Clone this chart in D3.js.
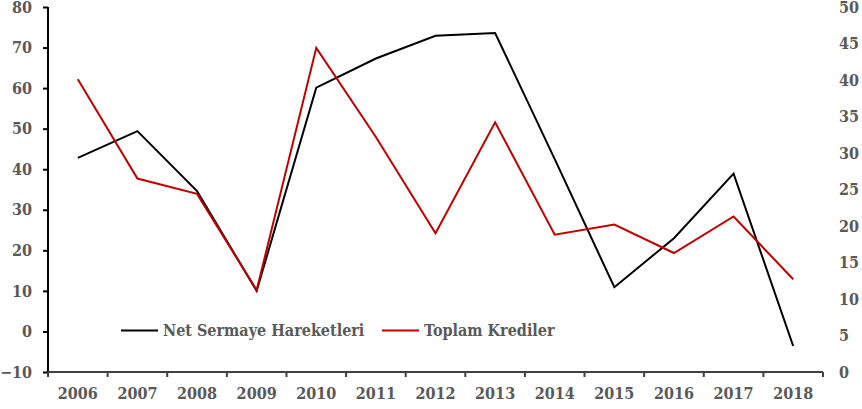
<!DOCTYPE html>
<html><head><meta charset="utf-8">
<script src="https://cdn.jsdelivr.net/npm/d3@7"></script>
<style>
html,body{margin:0;padding:0;background:#fff;}
text{font-family:"DejaVu Serif Condensed","DejaVu Serif",serif;font-stretch:condensed;font-weight:bold;fill:#595959;}
</style></head>
<body><svg id="c" width="862" height="409"></svg>
<script>
const years = ["2006","2007","2008","2009","2010","2011","2012","2013","2014","2015","2016","2017","2018"];
const netSermaye = [42.8,49.4,34.6,10.0,60.1,67.3,72.9,73.6,42.5,10.9,23.0,38.9,-3.6];
const toplamKrediler = [40.1,26.5,24.4,11.2,44.4,32.2,19.0,34.2,18.8,20.2,16.3,21.3,12.7];
const leftTicks = [-10,0,10,20,30,40,50,60,70,80];
const rightTicks = [0,5,10,15,20,25,30,35,40,45,50];
const seriesNames = ["Net Sermaye Hareketleri","Toplam Krediler"];
const seriesColors = ["#000000","#C00000"];

const svg = d3.select("#c");
const L = 48, R = 823, T = 7, B = 372;
const x = d3.scaleBand().domain(years).range([L,R]).padding(0);
const yL = d3.scaleLinear().domain([-10,80]).range([B,T]);
const yR = d3.scaleLinear().domain([0,50]).range([B,T]);

// left axis
const gL = svg.append("g").attr("transform",`translate(${L},0)`)
  .call(d3.axisLeft(yL).tickValues(leftTicks).tickSize(5).tickPadding(11));
gL.select(".domain").attr("stroke","#000").attr("stroke-width",2).attr("d",`M0,${T}V${B}`);
gL.selectAll(".tick line").attr("stroke","#000").attr("stroke-width",2);
gL.selectAll(".tick text").style("font-size","16px").attr("fill","#595959");

// right axis labels only
const gR = svg.append("g").attr("transform",`translate(839,0)`)
  .call(d3.axisRight(yR).tickValues(rightTicks).tickSize(0).tickPadding(0));
gR.select(".domain").remove();
gR.selectAll(".tick text").style("font-size","16px").attr("fill","#595959");

// bottom axis
const gB = svg.append("g").attr("transform",`translate(0,${B})`)
  .call(d3.axisBottom(x).tickSize(0).tickPadding(16));
gB.select(".domain").attr("stroke","#404040").attr("stroke-width",2).attr("d",`M${L},0H${R}`);
gB.selectAll(".tick text").style("font-size","16px").attr("fill","#595959");
// tick marks at band boundaries
const bounds = years.map(y=>x(y)).concat([R]);
gB.selectAll(".bt").data(bounds).enter().append("line")
  .attr("x1",d=>d).attr("x2",d=>d).attr("y1",0).attr("y2",5)
  .attr("stroke","#404040").attr("stroke-width",2);

const cx = d => x(d) + x.bandwidth()/2;
const lineL = d3.line().x((d,i)=>cx(years[i])).y(d=>yL(d));
const lineR = d3.line().x((d,i)=>cx(years[i])).y(d=>yR(d));

svg.append("path").datum(netSermaye).attr("d",lineL)
  .attr("fill","none").attr("stroke",seriesColors[0]).attr("stroke-width",2).attr("stroke-linejoin","miter");
svg.append("path").datum(toplamKrediler).attr("d",lineR)
  .attr("fill","none").attr("stroke",seriesColors[1]).attr("stroke-width",2).attr("stroke-linejoin","miter");

// legend
const legY = 330.5;
const leg = [{x1:121,x2:158,tx:163},{x1:382,x2:419,tx:424}];
leg.forEach((l,i)=>{
  svg.append("line").attr("x1",l.x1).attr("x2",l.x2).attr("y1",legY).attr("y2",legY)
    .attr("stroke",seriesColors[i]).attr("stroke-width",2);
  svg.append("text").attr("x",l.tx).attr("y",legY).attr("dy","0.36em")
    .style("font-size","16px").text(seriesNames[i]);
});
</script></body></html>
